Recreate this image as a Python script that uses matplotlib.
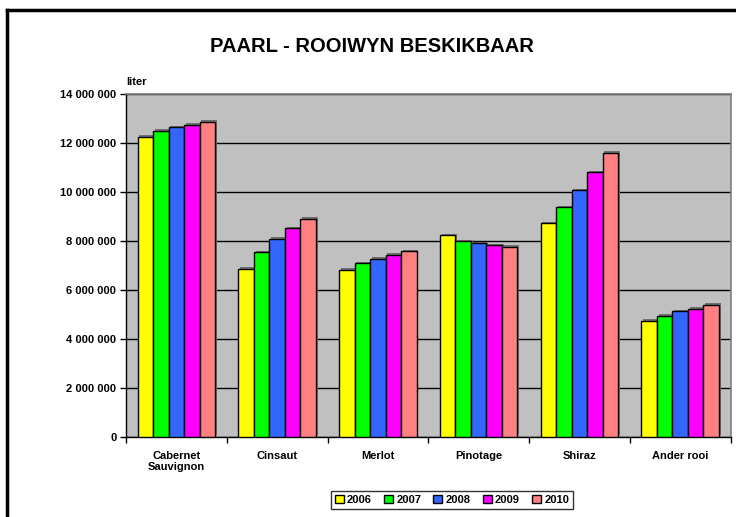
import numpy as np
import matplotlib
matplotlib.use('Agg')
import matplotlib.pyplot as plt
import matplotlib.patheffects as pe
from matplotlib.lines import Line2D

plt.rcParams['font.family'] = ['Liberation Sans', 'DejaVu Sans']
plt.rcParams['font.weight'] = 'bold'

categories = ['Cabernet\nSauvignon', 'Cinsaut', 'Merlot', 'Pinotage', 'Shiraz', 'Ander rooi']
years = ['2006', '2007', '2008', '2009', '2010']
v2006 = [12260000, 6870000, 6820000, 8230000, 8720000, 4730000]
v2007 = [12490000, 7540000, 7090000, 7990000, 9370000, 4950000]
v2008 = [12640000, 8090000, 7270000, 7910000, 10070000, 5130000]
v2009 = [12750000, 8520000, 7430000, 7820000, 10800000, 5240000]
v2010 = [12860000, 8910000, 7580000, 7760000, 11590000, 5390000]
colors = ['#FFFF00', '#00FF00', '#3366FF', '#FF00FF', '#FF8080']
yticks = [0, 2000000, 4000000, 6000000, 8000000, 10000000, 12000000, 14000000]
ytick_labels = ['0', '2 000 000', '4 000 000', '6 000 000', '8 000 000',
                '10 000 000', '12 000 000', '14 000 000']

fig = plt.figure(figsize=(7.36, 5.17), dpi=100)
ax = fig.add_axes([126 / 736, 1 - 437 / 517, (730.5 - 126) / 736, (437 - 94) / 517])
ax.set_facecolor('#C0C0C0')

series = [v2006, v2007, v2008, v2009, v2010]
x = np.arange(len(categories))
w = 1 / 6.5
shadow = [pe.SimplePatchShadow(offset=(1.2, 1.2), shadow_rgbFace='#707070', alpha=1), pe.Normal()]
for i, vals in enumerate(series):
    bars = ax.bar(x + (i - 2) * w, vals, w, color=colors[i], edgecolor='black',
                  linewidth=1, label=years[i], zorder=3)
    for b in bars:
        b.set_path_effects(shadow)

ax.set_xlim(-0.5, len(categories) - 0.5)
ax.set_ylim(0, 14000000)
ax.set_yticks(yticks)
ax.set_yticklabels(ytick_labels, fontsize=8, fontweight='bold')
ax.yaxis.grid(True, color='black', linewidth=1, zorder=1)
ax.set_axisbelow(True)
ax.set_xticks(np.arange(len(categories) + 1) - 0.5, minor=False)
ax.set_xticklabels([])
ax.set_xticks(x, minor=True)
ax.set_xticklabels(categories, minor=True, fontsize=8, fontweight='bold')
ax.tick_params(axis='x', which='minor', length=0, pad=10)
ax.tick_params(axis='x', which='major', length=4, direction='out', width=1)
ax.tick_params(axis='y', length=4, direction='out', width=1, pad=3)
for s in ['top', 'right']:
    ax.spines[s].set_color('#808080')
    ax.spines[s].set_linewidth(1.2)
for s in ['left', 'bottom']:
    ax.spines[s].set_color('black')
    ax.spines[s].set_linewidth(1)

ax.text(0, 1.02, 'liter', transform=ax.transAxes, fontsize=8, fontweight='bold',
        ha='left', va='bottom')
fig.text(0.505, 1 - 47 / 517, 'PAARL - ROOIWYN BESKIKBAAR', fontsize=14.5,
         fontweight='bold', ha='center', va='center')

leg = fig.legend(loc='center', bbox_to_anchor=(452 / 736, 1 - 500 / 517), ncol=5,
                 fontsize=8, frameon=True, fancybox=False, edgecolor='black',
                 handlelength=0.8, handleheight=0.8, handletextpad=0.3,
                 columnspacing=1.1, borderpad=0.35)
leg.get_frame().set_linewidth(1)
for h in leg.legend_handles:
    h.set_path_effects([])

fig.add_artist(Line2D([7 / 736, 7 / 736], [0, 1 - 9.5 / 517], color='black', linewidth=2.5,
                      transform=fig.transFigure))
fig.add_artist(Line2D([7 / 736, 1], [1 - 9.5 / 517, 1 - 9.5 / 517], color='black',
                      linewidth=2.5, transform=fig.transFigure))

fig.savefig('out.png', dpi=100)
